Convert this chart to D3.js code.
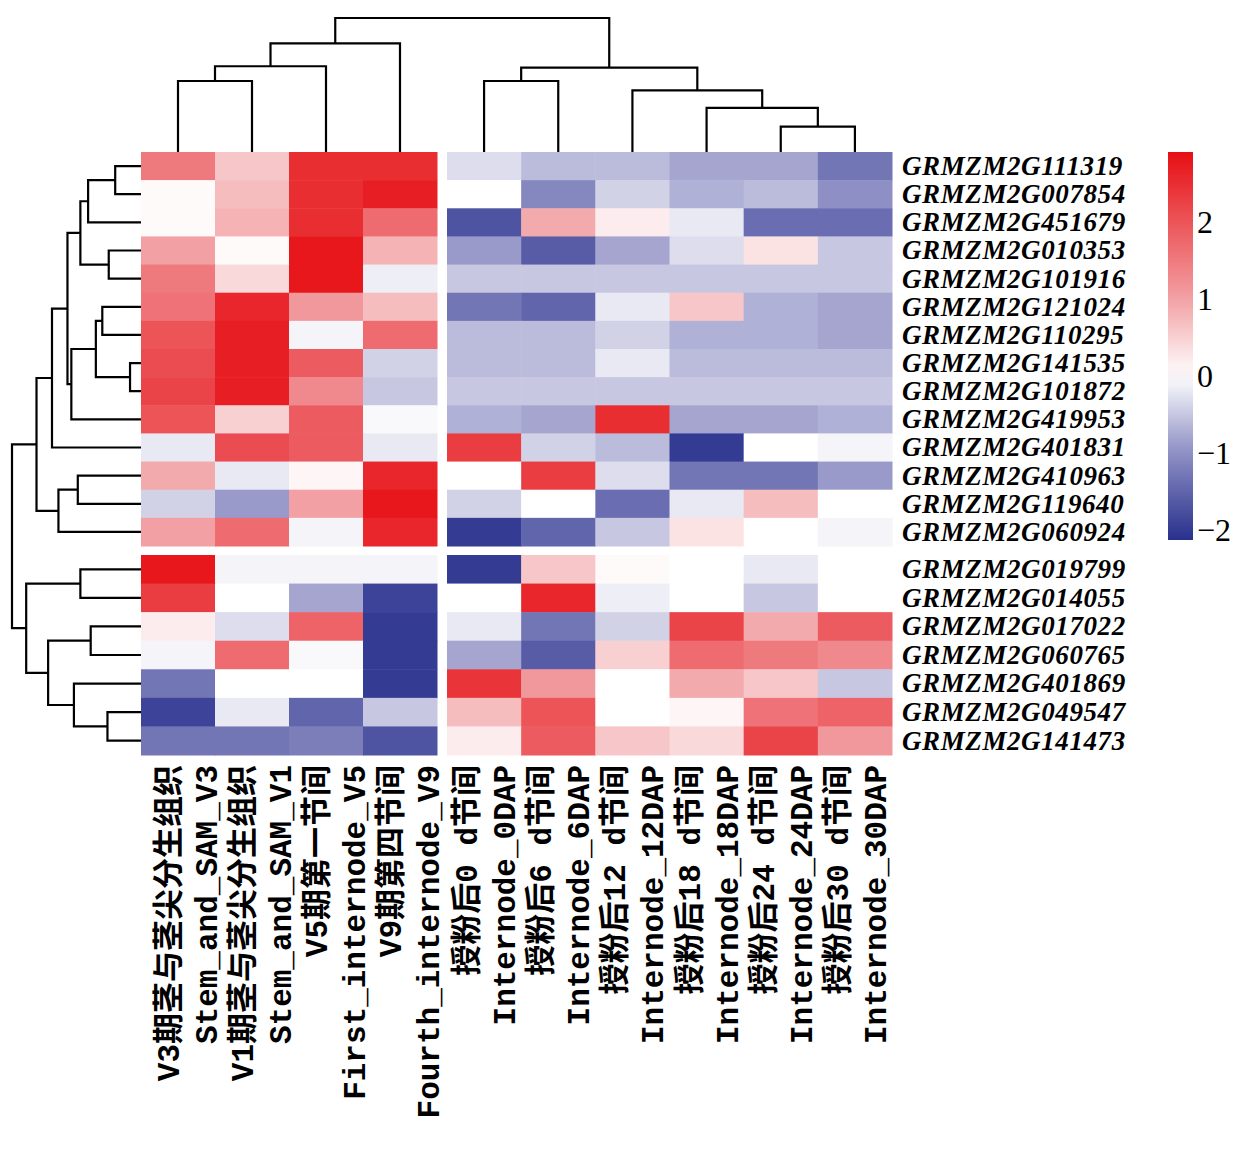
<!DOCTYPE html>
<html><head><meta charset="utf-8">
<script src="https://cdn.jsdelivr.net/npm/d3@7"></script>
<style>body{margin:0;background:#fff}</style></head>
<body><svg id="c" width="1246" height="1149"></svg>
<script>
const genes=["GRMZM2G111319","GRMZM2G007854","GRMZM2G451679","GRMZM2G010353","GRMZM2G101916","GRMZM2G121024","GRMZM2G110295","GRMZM2G141535","GRMZM2G101872","GRMZM2G419953","GRMZM2G401831","GRMZM2G410963","GRMZM2G119640","GRMZM2G060924","GRMZM2G019799","GRMZM2G014055","GRMZM2G017022","GRMZM2G060765","GRMZM2G401869","GRMZM2G049547","GRMZM2G141473"];
const colLabelsCN=["V3期茎与茎尖分生组织","V1期茎与茎尖分生组织","V5期第一节间","V9期第四节间","授粉后0 d节间","授粉后6 d节间","授粉后12 d节间","授粉后18 d节间","授粉后24 d节间","授粉后30 d节间"];
const colLabelsEN=["Stem_and_SAM_V3","Stem_and_SAM_V1","First_internode_V5","Fourth_internode_V9","Internode_0DAP","Internode_6DAP","Internode_12DAP","Internode_18DAP","Internode_24DAP","Internode_30DAP"];
const values=[
[1.5,0.6,2.5,2.5,-0.3,-0.6,-0.6,-0.8,-0.8,-1.3],
[0.05,0.7,2.5,2.7,0,-1.1,-0.4,-0.7,-0.6,-1.0],
[0.05,0.8,2.5,1.7,-1.7,0.9,0.2,-0.2,-1.4,-1.4],
[1.0,0.05,2.8,0.8,-0.9,-1.6,-0.8,-0.3,0.3,-0.5],
[1.5,0.4,2.8,-0.15,-0.5,-0.5,-0.5,-0.5,-0.5,-0.5],
[1.6,2.6,1.1,0.7,-1.3,-1.5,-0.2,0.6,-0.7,-0.8],
[2.0,2.7,-0.1,1.7,-0.6,-0.6,-0.4,-0.7,-0.7,-0.8],
[2.1,2.7,1.9,-0.4,-0.6,-0.6,-0.2,-0.6,-0.6,-0.6],
[2.2,2.7,1.3,-0.5,-0.5,-0.5,-0.5,-0.5,-0.5,-0.5],
[2.0,0.5,1.9,-0.05,-0.7,-0.8,2.5,-0.8,-0.8,-0.7],
[-0.2,2.1,1.9,-0.2,2.3,-0.4,-0.6,-2.0,0,-0.1],
[0.9,-0.2,0.1,2.6,0,2.3,-0.3,-1.3,-1.3,-0.9],
[-0.4,-0.9,1.0,2.8,-0.4,0,-1.4,-0.2,0.7,0],
[1.0,1.7,-0.1,2.6,-2.0,-1.5,-0.5,0.3,0,-0.1],
[2.8,-0.1,-0.1,-0.1,-2.0,0.6,0.05,0,-0.2,0],
[2.3,0,-0.8,-1.9,0,2.6,-0.15,0,-0.5,0],
[0.2,-0.3,1.8,-2.0,-0.2,-1.3,-0.4,2.2,0.9,1.9],
[-0.1,1.7,-0.05,-2.0,-0.8,-1.6,0.5,1.7,1.5,1.3],
[-1.3,0,0,-2.0,2.4,1.1,0,0.9,0.6,-0.5],
[-1.9,-0.2,-1.5,-0.5,0.7,2.0,0,0.1,1.6,1.8],
[-1.3,-1.3,-1.2,-1.7,0.2,1.9,0.6,0.4,2.2,1.1]];
const legendTicks=[-2,-1,0,1,2];
const colTree=[[[[0,1,0.53],2,0.64],3,0.81],[[4,5,0.53],[6,[7,[8,9,0.19],0.33],0.46],0.63],1];
const rowTree=[[[[[[[0,1,0.2],2,0.41],[3,4,0.25],0.47],[[[5,6,0.3],[7,8,0.085],0.35],9,0.54],0.57],10,0.69],[[11,12,0.49],13,0.64],0.81],[[14,15,0.47],[[16,17,0.39],[18,[19,20,0.26],0.52],0.72],0.89],1];

const svg=d3.select("#c");
const xA=d3.scaleBand().domain(d3.range(0,4)).range([141,437]);
const xB=d3.scaleBand().domain(d3.range(4,10)).range([447,892]);
const yA=d3.scaleBand().domain(d3.range(0,14)).range([152,546]);
const yB=d3.scaleBand().domain(d3.range(14,21)).range([555,755]);
const xs=i=>i<4?xA(i):xB(i), xw=i=>i<4?xA.bandwidth():xB.bandwidth();
const ys=i=>i<14?yA(i):yB(i), yh=i=>i<14?yA.bandwidth():yB.bandwidth();
const color=d3.scaleLinear().domain([-2.15,-1,0,1,2.9]).range(["#262e8c","#8e8fc4","#ffffff","#f2a0a4","#e60f14"]).clamp(true);

values.forEach((row,r)=>row.forEach((v,c)=>{
  svg.append("rect").attr("x",xs(c)).attr("y",ys(r)).attr("width",xw(c)+0.5).attr("height",yh(r)+0.5).attr("fill",color(v));
}));

const cy=d3.scaleLinear().domain([0,1]).range([152,18]);
const cg=svg.append("g").attr("stroke","#000").attr("stroke-width",2.2).attr("fill","none");
function drawCol(n){
  if(typeof n==="number") return {x:xs(n)+xw(n)/2,h:0};
  const a=drawCol(n[0]),b=drawCol(n[1]),h=n[2];
  cg.append("path").attr("d",`M${a.x},${cy(a.h)}V${cy(h)}H${b.x}V${cy(b.h)}`);
  return {x:(a.x+b.x)/2,h};
}
drawCol(colTree);
const rx=d3.scaleLinear().domain([0,1]).range([141,12]);
function drawRow(n){
  if(typeof n==="number") return {y:ys(n)+yh(n)/2,h:0};
  const a=drawRow(n[0]),b=drawRow(n[1]),h=n[2];
  cg.append("path").attr("d",`M${rx(a.h)},${a.y}H${rx(h)}V${b.y}H${rx(b.h)}`);
  return {y:(a.y+b.y)/2,h};
}
drawRow(rowTree);

genes.forEach((g,i)=>svg.append("text").attr("x",902).attr("y",ys(i)+yh(i)/2).attr("dy","0.33em")
  .attr("font-family","Liberation Serif").attr("font-style","italic").attr("font-weight","bold").attr("font-size",27).attr("letter-spacing",0.6).text(g));

const colFont="'Liberation Mono','Noto Sans CJK SC'";
colLabelsCN.forEach((t,i)=>{
  const cx=i<4?xs(i)+xw(i)/2-10:xs(i)+xw(i)/2-18;
  [[t,cx],[colLabelsEN[i],cx+38]].forEach(([s,x])=>{
    svg.append("text").attr("transform",`translate(${x+11},765) rotate(-90)`).attr("text-anchor","end")
      .attr("font-family",colFont).attr("font-size",31).attr("font-weight","bold").text(s);
  });
});

const ly=d3.scaleLinear().domain([-2.13,2.9]).range([540,152]);
const defs=svg.append("defs");
const gr=defs.append("linearGradient").attr("id","lg").attr("x1",0).attr("y1",1).attr("x2",0).attr("y2",0);
d3.range(0,21).forEach(k=>{const v=-2.13+k*(5.03/20);gr.append("stop").attr("offset",k/20).attr("stop-color",color(v));});
svg.append("rect").attr("x",1168).attr("y",152).attr("width",25).attr("height",388).attr("fill","url(#lg)");
legendTicks.forEach(t=>{
  svg.append("text").attr("x",1197).attr("y",ly(t)).attr("dy","0.35em").attr("font-family","Liberation Serif")
    .attr("font-size",32).text(t<0?"\u2212"+(-t):t);
});
</script></body></html>
